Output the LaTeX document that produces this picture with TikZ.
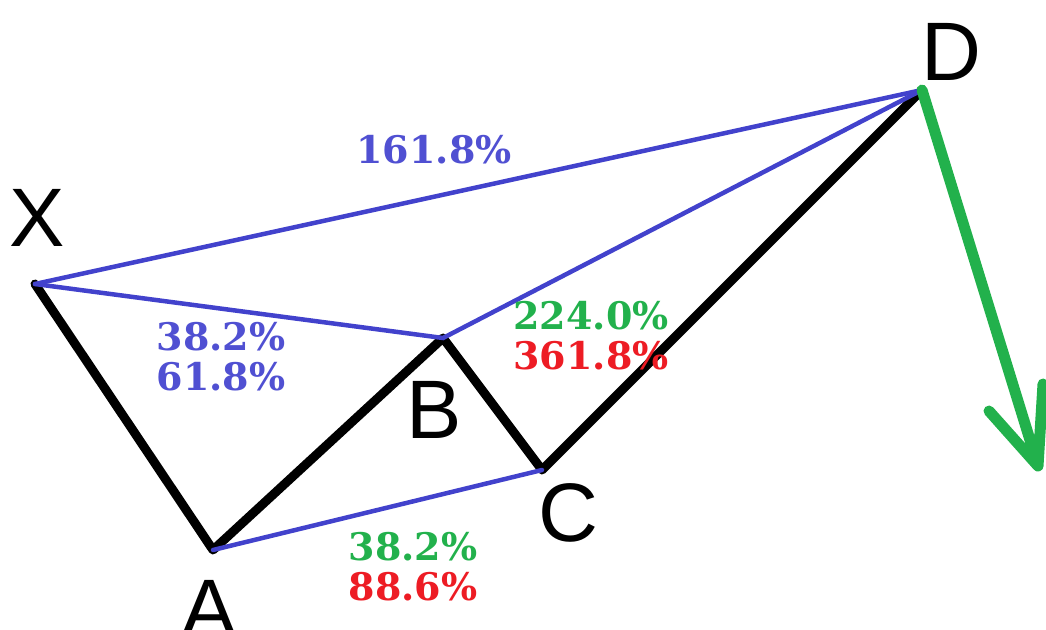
\documentclass[tikz,border=0pt]{standalone}
\usepackage{fontspec}
\setmainfont{Liberation Sans}
\newfontfamily\pctfont{DejaVu Serif}
\definecolor{lblue}{RGB}{66,66,204}
\definecolor{tblue}{RGB}{80,80,210}
\definecolor{pgreen}{RGB}{34,177,76}
\definecolor{pred}{RGB}{237,28,36}
\begin{document}
\begin{tikzpicture}[x=1pt,y=-1pt,
  leg/.style={line width=9pt,black,line cap=round,line join=round},
  fib/.style={line width=4.5pt,lblue,line cap=round},
  pct/.style={font=\pctfont\bfseries\fontsize{38}{40}\selectfont,inner sep=0pt,align=left},
  ptlabel/.style={font=\fontsize{83}{85}\selectfont,inner sep=0pt}]
\useasboundingbox (0,0) rectangle (1046,629);
\coordinate (X) at (35,284);
\coordinate (A) at (213,550);
\coordinate (B) at (443,338);
\coordinate (C) at (542,470);
\coordinate (D) at (922,90);
\coordinate (T) at (1038,466);
\coordinate (L) at (989,411);
\coordinate (R) at (1043,384);
\draw[leg] (X) -- (A) -- (B) -- (C) -- (D);
\draw[fib] (X) -- (D);
\draw[fib] (X) -- (B) -- (D);
\draw[fib] (A) -- (C);
\draw[line width=11pt,pgreen,line cap=round,line join=round] (D) -- (T) (L) -- (T) -- (R);
\node[ptlabel] (lX) at (37,218) {X};
\node[ptlabel] (lA) at (209,609) {A};
\node[ptlabel] (lB) at (434,410) {B};
\node[ptlabel] (lC) at (568,513) {C};
\node[ptlabel] (lD) at (951,52) {D};
\node[pct,text=tblue] (p1) at (434,150) {161.8\%};
\node[pct,text=tblue] (p2) at (221,357) {38.2\%\\61.8\%};
\node[pct] (p3) at (591,336) {\textcolor{pgreen}{224.0\%}\\\textcolor{pred}{361.8\%}};
\node[pct] (p4) at (413,567) {\textcolor{pgreen}{38.2\%}\\\textcolor{pred}{88.6\%}};
\end{tikzpicture}
\end{document}
